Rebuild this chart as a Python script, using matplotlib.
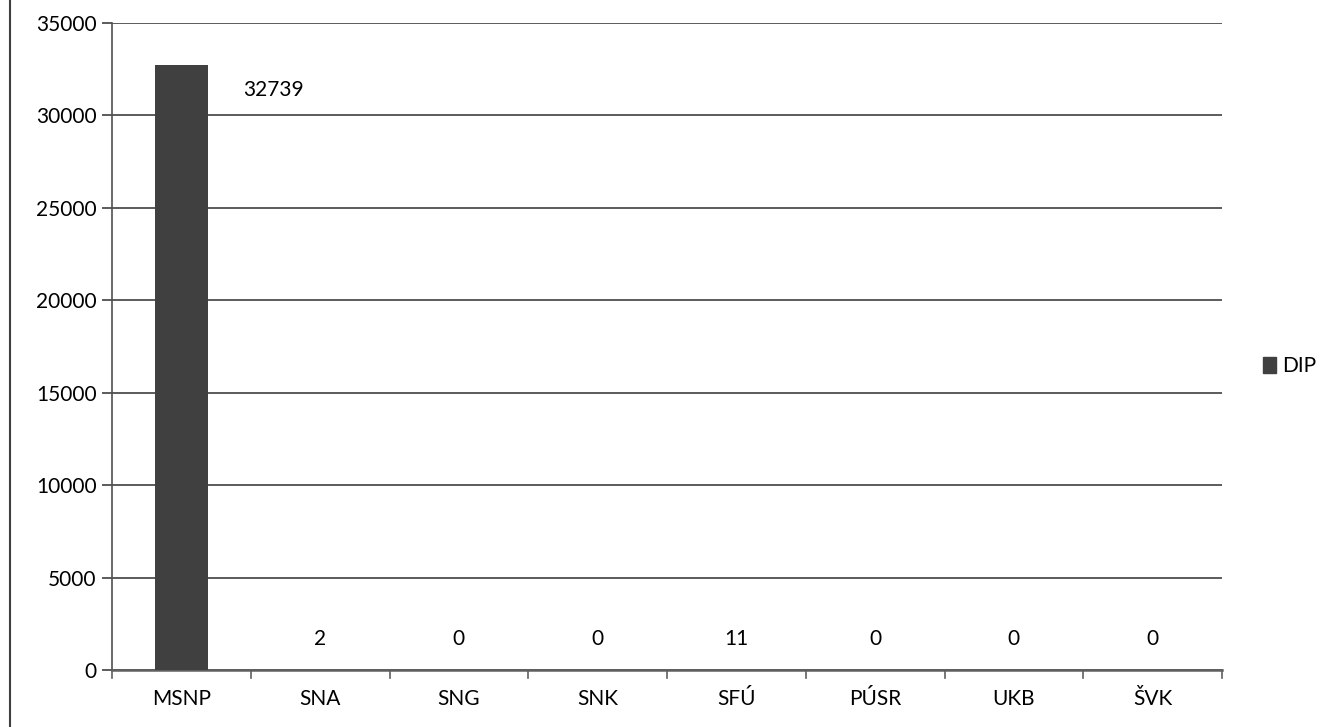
import matplotlib
matplotlib.use("Agg")
import matplotlib.pyplot as plt
from matplotlib.lines import Line2D
from matplotlib.patches import Patch

categories = ["MSNP", "SNA", "SNG", "SNK", "SFÚ", "PÚSR", "UKB", "ŠVK"]
values = [32739, 2, 0, 0, 11, 0, 0, 0]
series_name = "DIP"
yticks = [0, 5000, 10000, 15000, 20000, 25000, 30000, 35000]

plt.rcParams['font.family'] = ['Lato', 'DejaVu Sans']
W, H = 1332, 727
fig = plt.figure(figsize=(W/100, H/100), dpi=100)
ax = fig.add_axes([112/W, 1-670/H, (1222-112)/W, (670-23)/H])

bar_color = "#404040"
n = len(categories)
x = list(range(n))
ax.bar(x, values, width=0.38, color=bar_color, zorder=3)

ax.set_xlim(-0.5, n-0.5)
ax.set_ylim(0, 35000)
ax.set_yticks(yticks)
ax.set_yticklabels([str(t) for t in yticks], fontsize=15)
ax.set_xticks(x)
ax.set_xticklabels(categories, fontsize=15)
ax.tick_params(axis='x', length=0, pad=14)
ax.tick_params(axis='y', length=7, width=1.2, color="#404040", pad=4)
for xb in [i-0.5 for i in range(n+1)]:
    ax.add_line(Line2D([xb, xb], [0, -0.012], transform=ax.get_xaxis_transform(),
                       color="#606060", lw=1.2, clip_on=False))

ax.yaxis.grid(True, color="#404040", lw=1.2, zorder=0)
for s in ["top", "right"]:
    ax.spines[s].set_visible(False)
ax.spines["left"].set_color("#505050")
ax.spines["bottom"].set_color("#606060")
ax.spines["left"].set_linewidth(1.2)
ax.spines["bottom"].set_linewidth(1.8)

for i, v in enumerate(values):
    if v > 20000:
        ax.annotate(str(v), (i, v), xytext=(66, -18), textcoords="offset points",
                    ha="center", va="center", fontsize=15)
    else:
        ax.annotate(str(v), (i, v), xytext=(0, 22), textcoords="offset points",
                    ha="center", va="center", fontsize=15)

fig.legend(handles=[Patch(color=bar_color, label=series_name)], loc="center left",
           bbox_to_anchor=(1255/W, 1-366/H), frameon=False, fontsize=15,
           handlelength=0.6, handleheight=0.8, handletextpad=0.3, borderaxespad=0)

fig.add_artist(Line2D([10/W, 10/W], [0, 1], transform=fig.transFigure, color="#404040", lw=1.5))

fig.savefig("out.png", dpi=100)
